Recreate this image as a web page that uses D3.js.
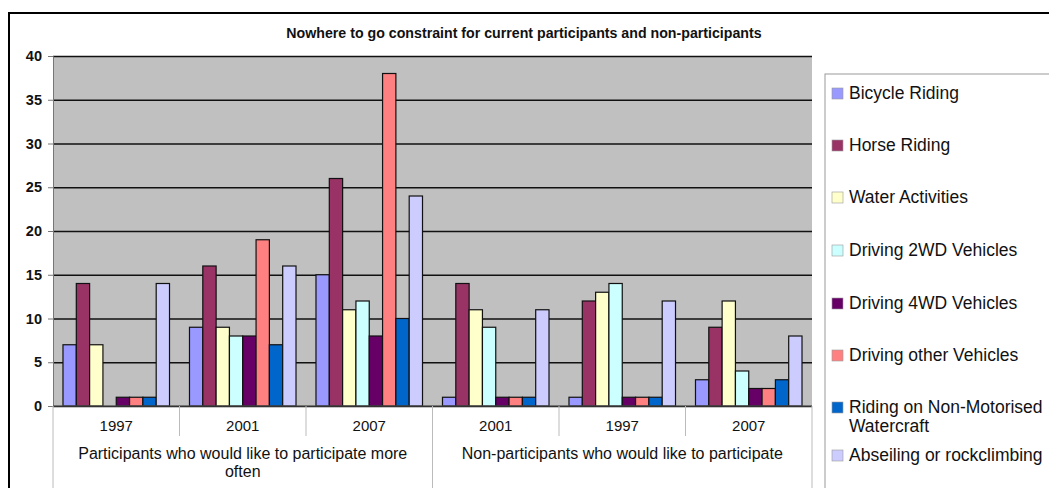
<!DOCTYPE html>
<html lang="en">
	<head>
		<meta charset="utf-8">
		<title>Nowhere to go constraint</title>
		<script type="text/javascript" src="https://cdn.jsdelivr.net/npm/d3@7"></script>
		<style type="text/css">
			body { margin: 0; background: #fff; }
			text { font-family: "Liberation Sans", Arial, sans-serif; fill: #111; }
		</style>
	</head>
	<body>
		<script type="text/javascript">

			// categories along the x axis (two levels)
			var years = ["1997", "2001", "2007", "2001", "1997", "2007"];
			var groups = ["Participants who would like to participate more|often",
						  "Non-participants who would like to participate"];
			var groupOf = [0, 0, 0, 1, 1, 1];

			var seriesNames = ["Bicycle Riding", "Horse Riding", "Water Activities",
							   "Driving 2WD Vehicles", "Driving 4WD Vehicles",
							   "Driving other Vehicles", "Riding on Non-Motorised|Watercraft",
							   "Abseiling or rockclimbing"];
			var colors = ["#9999ff", "#993366", "#ffffcc", "#ccffff",
						  "#660066", "#ff8080", "#0066cc", "#ccccff"];

			// one array per series, one value per category
			var bicycle  = [7, 9, 15, 1, 1, 3];
			var horse    = [14, 16, 26, 14, 12, 9];
			var water    = [7, 9, 11, 11, 13, 12];
			var drive2wd = [0, 8, 12, 9, 14, 4];
			var drive4wd = [1, 8, 8, 1, 1, 2];
			var driveOth = [1, 19, 38, 1, 1, 2];
			var nonMotor = [1, 7, 10, 1, 1, 3];
			var abseil   = [14, 16, 24, 11, 12, 8];
			var values = [bicycle, horse, water, drive2wd, drive4wd, driveOth, nonMotor, abseil];

			var yTicks = [0, 5, 10, 15, 20, 25, 30, 35, 40];

			var W = 1049, H = 488;
			var plot = {left: 53, right: 812, top: 56, bottom: 406};

			var svg = d3.select("body").append("svg")
						.attr("width", W).attr("height", H);

			// outer chart border
			svg.append("rect")
			   .attr("x", 9).attr("y", 13)
			   .attr("width", W + 10).attr("height", H + 10)
			   .attr("fill", "#fff").attr("stroke", "#000").attr("stroke-width", 2);

			svg.append("text")
			   .attr("x", 524).attr("y", 38)
			   .attr("text-anchor", "middle")
			   .attr("font-size", "14.2px").attr("font-weight", "bold")
			   .text("Nowhere to go constraint for current participants and non-participants");

			var xScale = d3.scaleBand()
						   .domain(d3.range(years.length))
						   .range([plot.left, plot.right])
						   .paddingInner(0).paddingOuter(0);

			var inner = d3.scaleBand()
						  .domain(d3.range(seriesNames.length))
						  .range([0, xScale.bandwidth()])
						  .paddingOuter(0.75).paddingInner(0);

			var yScale = d3.scaleLinear()
						   .domain([0, 40])
						   .range([plot.bottom, plot.top]);

			// plot area
			svg.append("rect")
			   .attr("x", plot.left).attr("y", plot.top)
			   .attr("width", plot.right - plot.left)
			   .attr("height", plot.bottom - plot.top)
			   .attr("fill", "#c0c0c0");

			// gridlines
			var grid = svg.append("g")
						  .attr("transform", "translate(" + plot.left + ",0)")
						  .call(d3.axisLeft(yScale).tickValues(yTicks)
								  .tickSize(-(plot.right - plot.left)).tickFormat(""));
			grid.select(".domain").remove();
			grid.selectAll("line").attr("stroke", "#111").attr("stroke-width", 1.5);

			// y axis with labels
			var yAxis = svg.append("g")
						   .attr("transform", "translate(" + plot.left + ",0)")
						   .call(d3.axisLeft(yScale).tickValues(yTicks).tickSize(5).tickPadding(6));
			yAxis.select(".domain").attr("stroke", "#777");
			yAxis.selectAll("line").attr("stroke", "#777");
			yAxis.selectAll("text")
				 .attr("font-size", "14.5px").attr("font-weight", "bold")
				 .attr("fill", "#222")
				 .attr("font-family", "Liberation Sans, Arial, sans-serif");

			// bars
			var cat = svg.selectAll("g.cat")
						 .data(years)
						 .enter().append("g")
						 .attr("class", "cat")
						 .attr("transform", function(d, i) {
						 	return "translate(" + xScale(i) + ",0)";
						 });

			cat.selectAll("rect")
			   .data(function(d, i) {
			   		return values.map(function(s, k) { return {k: k, v: s[i]}; });
			   })
			   .enter().append("rect")
			   .filter(function(d) { return d.v > 0; })
			   .attr("x", function(d) { return inner(d.k); })
			   .attr("y", function(d) { return yScale(d.v); })
			   .attr("width", inner.bandwidth())
			   .attr("height", function(d) { return yScale(0) - yScale(d.v); })
			   .attr("fill", function(d) { return colors[d.k]; })
			   .attr("stroke", "#111").attr("stroke-width", 1.2);

			// category axis
			svg.append("line")
			   .attr("x1", plot.left).attr("x2", plot.right)
			   .attr("y1", plot.bottom).attr("y2", plot.bottom)
			   .attr("stroke", "#555").attr("stroke-width", 1);

			// separators between years
			svg.selectAll("line.ysep")
			   .data(d3.range(1, years.length))
			   .enter().append("line")
			   .attr("class", "ysep")
			   .attr("x1", function(i) { return xScale(i); })
			   .attr("x2", function(i) { return xScale(i); })
			   .attr("y1", plot.bottom)
			   .attr("y2", function(i) { return i === 3 ? H : 436; })
			   .attr("stroke", "#bbb");

			svg.selectAll("line.gsep")
			   .data([plot.left, plot.right])
			   .enter().append("line")
			   .attr("class", "gsep")
			   .attr("x1", function(d) { return d; }).attr("x2", function(d) { return d; })
			   .attr("y1", plot.bottom).attr("y2", H)
			   .attr("stroke", "#bbb");

			svg.selectAll("text.year")
			   .data(years)
			   .enter().append("text")
			   .attr("class", "year")
			   .attr("x", function(d, i) { return xScale(i) + xScale.bandwidth() / 2; })
			   .attr("y", 431)
			   .attr("text-anchor", "middle")
			   .attr("font-size", "15px")
			   .text(function(d) { return d; });

			var gText = svg.selectAll("text.group")
						   .data(groups)
						   .enter().append("text")
						   .attr("class", "group")
						   .attr("text-anchor", "middle")
						   .attr("font-size", "16px")
						   .attr("x", function(d, g) {
						   		var idx = d3.range(years.length).filter(function(i) { return groupOf[i] === g; });
						   		return (xScale(idx[0]) + xScale(idx[idx.length - 1]) + xScale.bandwidth()) / 2;
						   })
						   .attr("y", 459);
			gText.each(function(d) {
				var self = d3.select(this), x = self.attr("x");
				d.split("|").forEach(function(part, j) {
					self.append("tspan").attr("x", x).attr("dy", j ? 18 : 0).text(part);
				});
			});

			// legend
			svg.append("rect")
			   .attr("x", 825).attr("y", 74)
			   .attr("width", 260).attr("height", 440)
			   .attr("fill", "#fff").attr("stroke", "#999");

			var legY = [93, 145, 197, 250, 303, 355, 407, 455];

			var legend = svg.selectAll("g.leg")
							.data(seriesNames)
							.enter().append("g")
							.attr("class", "leg")
							.attr("transform", function(d, i) {
								return "translate(832," + legY[i] + ")";
							});

			legend.append("rect")
				  .attr("x", 0).attr("y", -5)
				  .attr("width", 11).attr("height", 11)
				  .attr("fill", function(d, i) { return colors[i]; })
				  .attr("stroke", "#999").attr("stroke-width", 0.6);

			legend.append("text")
				  .attr("x", 17).attr("y", 6)
				  .attr("font-size", "17.5px")
				  .each(function(d) {
				  	var self = d3.select(this);
				  	d.split("|").forEach(function(part, j) {
				  		self.append("tspan").attr("x", 17).attr("dy", j ? 19 : 0).text(part);
				  	});
				  });

		</script>
	</body>
</html>
